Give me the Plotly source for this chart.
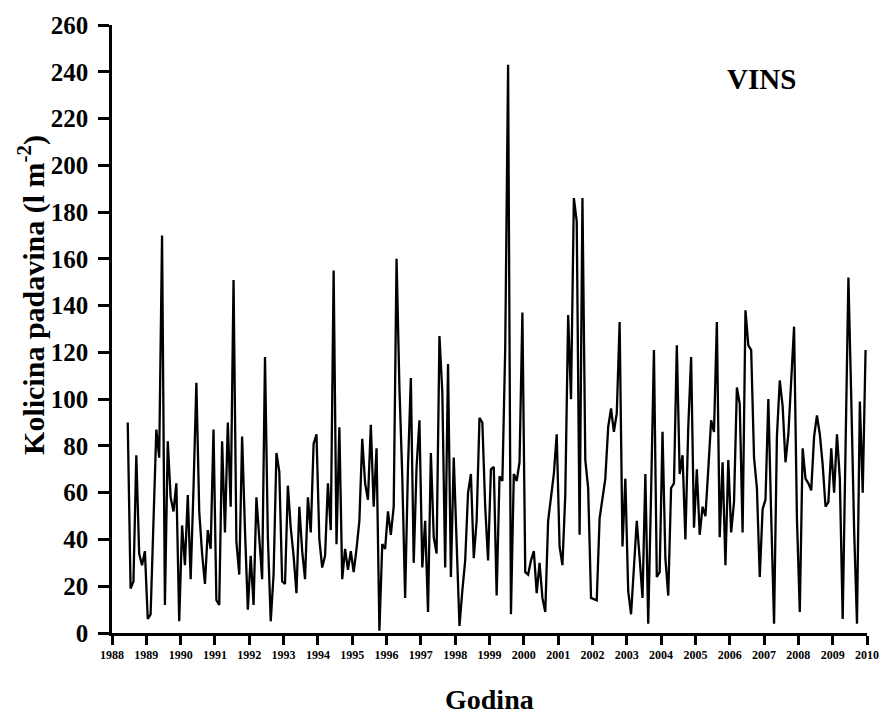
import plotly.graph_objects as go

# Monthly precipitation totals (l m-2); 1988 starts in June
rain_1988 = [90, 19, 22, 76, 34, 29, 35]
rain_1989_1992 = [
    6, 8, 45, 87, 75, 170, 12, 82, 58, 52, 64, 5,
    46, 29, 59, 23, 62, 107, 52, 34, 21, 44, 36, 87,
    14, 12, 82, 43, 90, 54, 151, 39, 25, 84, 44, 10,
    33, 12, 58, 40, 23, 118, 41, 5, 25, 77, 69, 22,
]
rain_1993_1996 = [
    21, 63, 45, 33, 17, 54, 35, 23, 58, 43, 81, 85,
    40, 28, 33, 64, 44, 155, 38, 88, 23, 36, 27, 35,
    26, 36, 48, 83, 64, 57, 89, 54, 79, 1, 38, 36,
    52, 42, 54, 160, 105, 67, 15, 71, 109, 30, 71, 91,
]
rain_1997_2000 = [
    28, 48, 9, 77, 41, 34, 127, 103, 28, 115, 24, 75,
    40, 3, 18, 31, 60, 68, 32, 48, 92, 90, 54, 31,
    70, 71, 16, 67, 65, 122, 243, 8, 68, 65, 73, 137,
    26, 25, 31, 35, 17, 30, 15, 9, 48, 58, 68, 85,
]
rain_2001_2004 = [
    37, 29, 59, 136, 100, 186, 176, 42, 186, 74, 62, 15,
    14.5, 14, 49, 57, 66, 88, 96, 86, 94, 133, 37, 66,
    18, 8, 28, 48, 32, 15, 68, 4, 60, 121, 24, 26,
    86, 32, 16, 62, 64, 123, 68, 76, 40, 88, 118, 45,
]
rain_2005_2009 = [
    70, 42, 54, 50, 70, 91, 86, 133, 41, 73, 29, 74,
    43, 56, 105, 98, 43, 138, 123, 121, 75, 62, 24, 53,
    57, 100, 50, 4, 84, 108, 97, 73, 85, 108, 131, 49,
    9, 79, 66, 64, 61, 84, 93, 85, 72, 54, 56, 79,
    60, 85, 66, 6, 80, 152, 100, 44, 4, 99, 60, 121,
]

start_year, start_month = 1988, 6
year_ticks = list(range(1988, 2011))
y_ticks = list(range(0, 261, 20))

rain = (rain_1988 + rain_1989_1992 + rain_1993_1996 + rain_1997_2000
        + rain_2001_2004 + rain_2005_2009)

# each month sits at the middle of its slot on the decimal-year axis
t = [start_year + (start_month - 1 + i + 0.5) / 12 for i in range(len(rain))]

serif = "Liberation Serif, Times New Roman, serif"

fig = go.Figure(
    go.Scatter(x=t, y=rain, mode="lines",
               line=dict(color="black", width=2.3), hoverinfo="skip")
)

fig.update_layout(
    width=882, height=716,
    margin=dict(l=112, r=15, t=25, b=83),
    paper_bgcolor="white", plot_bgcolor="white",
    showlegend=False,
    font=dict(family=serif, color="black"),
)

fig.update_xaxes(
    range=[1988, 2010], tickvals=year_ticks, ticktext=[str(y) for y in year_ticks],
    automargin=False,
    showline=True, linecolor="black", linewidth=2.5,
    ticks="outside", ticklen=9, tickwidth=2.5, tickcolor="black",
    showgrid=False, zeroline=False,
    tickfont=dict(family=serif, size=12, color="black", weight="bold"),
)
fig.update_yaxes(
    range=[0, 260], tickvals=y_ticks,
    automargin=False,
    showline=True, linecolor="black", linewidth=2.5,
    ticks="outside", ticklen=11, tickwidth=2.5, tickcolor="black",
    ticklabelstandoff=5,
    showgrid=False, zeroline=False,
    tickfont=dict(family=serif, size=25, color="black", weight="bold"),
)

fig.add_annotation(
    text="<b>Kolicina padavina (l m<sup>-2</sup>)</b>", textangle=-90,
    xref="paper", yref="paper", x=0, y=0.556, xshift=-80,
    xanchor="center", yanchor="middle", showarrow=False,
    font=dict(family=serif, size=30, color="black"),
)
fig.add_annotation(
    text="<b>Godina</b>",
    xref="paper", yref="paper", x=0.5, y=0, yshift=-66,
    xanchor="center", yanchor="middle", showarrow=False,
    font=dict(family=serif, size=28, color="black"),
)
fig.add_annotation(
    text="<b>VINS</b>",
    xref="paper", yref="paper", x=0.86, y=0.912,
    xanchor="center", yanchor="middle", showarrow=False,
    font=dict(family=serif, size=29, color="black"),
)

fig.write_html("out.html")
